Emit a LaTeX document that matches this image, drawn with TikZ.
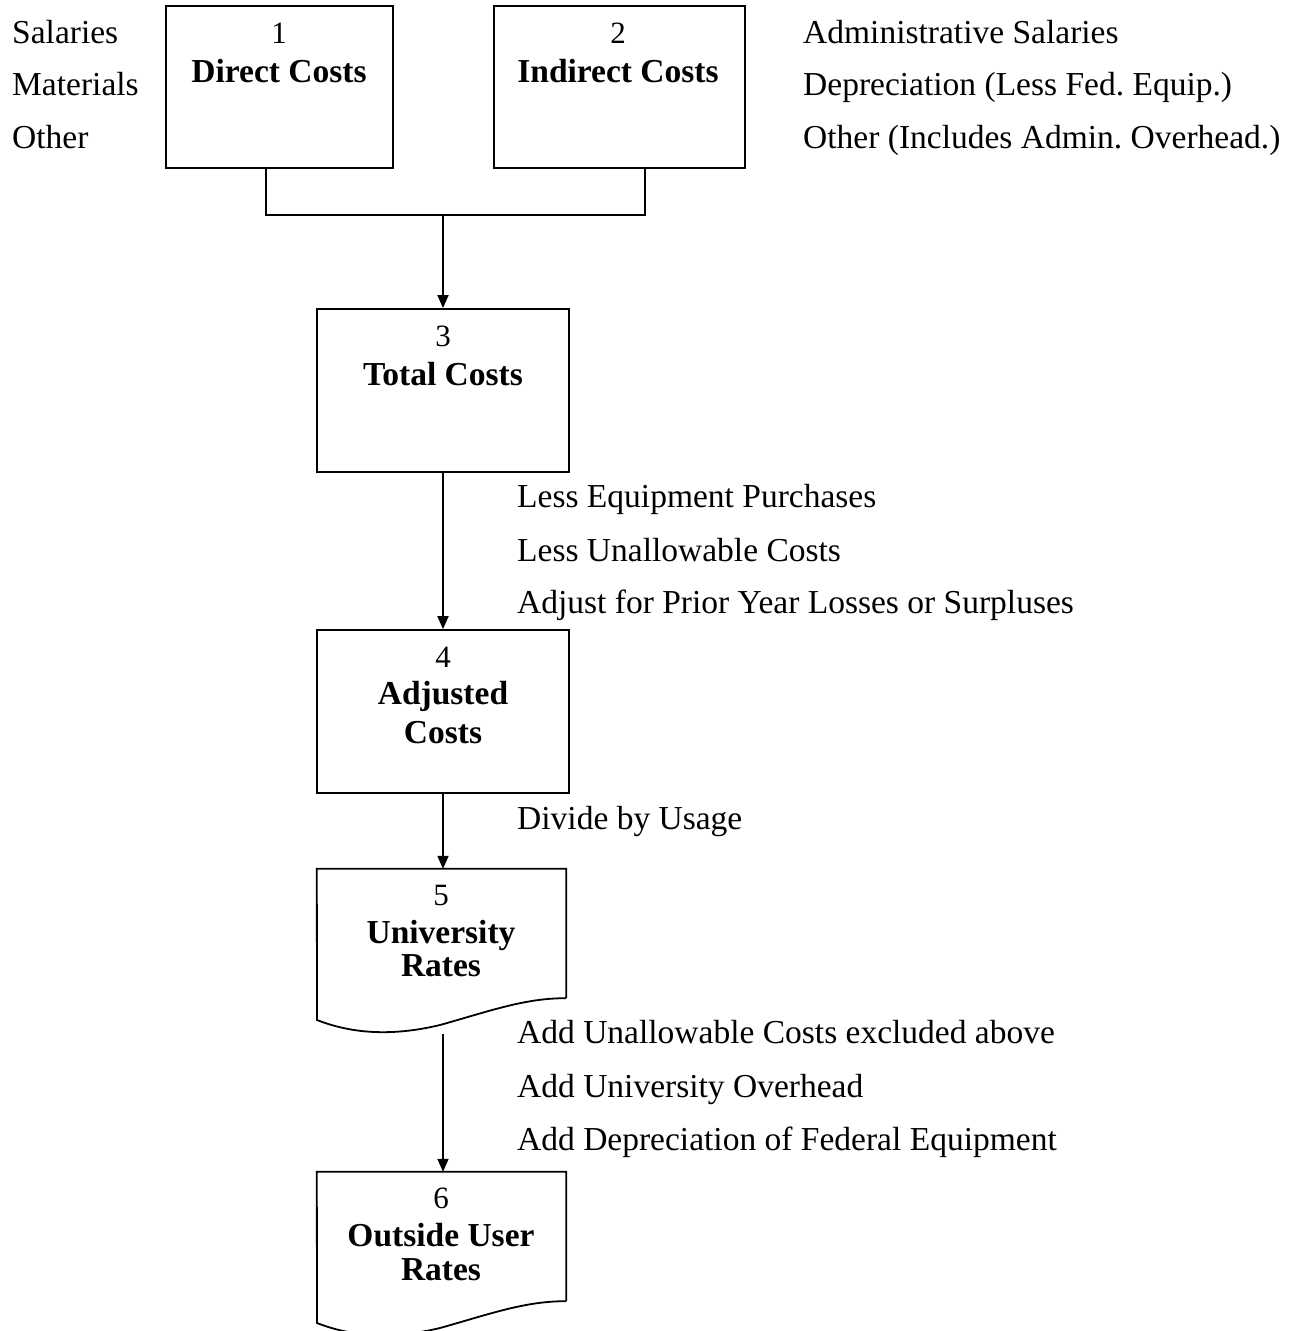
\documentclass[tikz,border=0pt]{standalone}
\usepackage{fontspec}
\setmainfont{Liberation Serif}
\usetikzlibrary{arrows.meta}
\frenchspacing
\begin{document}
\begin{tikzpicture}[x=1pt,y=-1pt,
  lbl/.style={anchor=base west,inner sep=0pt,font=\fontsize{33.5}{38}\selectfont},
  num/.style={anchor=base,inner sep=0pt,font=\fontsize{31}{36}\selectfont},
  ttl/.style={anchor=base,inner sep=0pt,font=\fontsize{33.5}{38}\selectfont\bfseries},
  boxln/.style={draw,line width=1.8pt},
  conn/.style={line width=1.8pt},
  arr/.style={conn,-{Triangle[width=11pt,length=13pt]}}]
\useasboundingbox (0,0) rectangle (1293,1331);
% boxes
\node[boxln,minimum width=227pt,minimum height=162pt,inner sep=0pt] (b1) at (279.5,87) {};
\node[boxln,minimum width=251pt,minimum height=162pt,inner sep=0pt] (b2) at (619.5,87) {};
\node[boxln,minimum width=252pt,minimum height=163pt,inner sep=0pt] (b3) at (443,390.5) {};
\node[boxln,minimum width=252pt,minimum height=163pt,inner sep=0pt] (b4) at (443,711.5) {};
\node[minimum width=249pt,minimum height=129pt,inner sep=0pt] (b5) at (441.5,933.5) {};
\node[minimum width=249pt,minimum height=129pt,inner sep=0pt] (b6) at (441.5,1236.5) {};
\draw[boxln,line join=miter] (b5.south east) -- (b5.north east) -- (b5.north west) -- (317,1020)
  .. controls (350,1033) and (390,1037) .. (440,1025)
  .. controls (490,1011) and (525,998) .. (b5.south east);
\draw[boxln,line join=miter] (b6.south east) -- (b6.north east) -- (b6.north west) -- (317,1323)
  .. controls (350,1336) and (390,1340) .. (440,1328)
  .. controls (490,1314) and (525,1301) .. (b6.south east);
% connectors
\coordinate (j) at (443,215);
\coordinate (s5) at (443,1034);
\draw[conn] ([xshift=-13.5pt]b1.south) |- (j) -| ([xshift=25.5pt]b2.south);
\draw[arr] (j) -- (b3.north);
\draw[arr] (b3.south) -- (b4.north);
\draw[arr] (b4.south) -- (b5.north -| b4.south);
\draw[arr] (s5) -- (b6.north -| s5);
% box texts
\node[num] (n1) at (279,43) {1};
\node[ttl] (t1) at (279,82) {Direct Costs};
\node[num] (n2) at (618,43) {2};
\node[ttl] (t2) at (618,82) {Indirect Costs};
\node[num] (n3) at (443,346) {3};
\node[ttl] (t3) at (443,385) {Total Costs};
\node[num] (n4) at (443,667) {4};
\node[ttl] (t4a) at (443,704) {Adjusted};
\node[ttl] (t4b) at (443,743) {Costs};
\node[num] (n5) at (441,905) {5};
\node[ttl] (t5a) at (441,943) {University};
\node[ttl] (t5b) at (441,976) {Rates};
\node[num] (n6) at (441,1208) {6};
\node[ttl] (t6a) at (441,1246) {Outside User};
\node[ttl] (t6b) at (441,1280) {Rates};
% side labels
\node[lbl] (l1) at (12,43) {Salaries};
\node[lbl] (l2) at (12,95) {Materials};
\node[lbl] (l3) at (12,148) {Other};
\node[lbl] (r1) at (803,43) {Administrative Salaries};
\node[lbl] (r2) at (803,95) {Depreciation (Less Fed. Equip.)};
\node[lbl] (r3) at (803,148) {Other (Includes Admin. Overhead.)};
\node[lbl] (a1) at (517,507) {Less Equipment Purchases};
\node[lbl] (a2) at (517,561) {Less Unallowable Costs};
\node[lbl] (a3) at (517,613) {Adjust for Prior Year Losses or Surpluses};
\node[lbl] (d1) at (517,829) {Divide by Usage};
\node[lbl] (u1) at (517,1043) {Add Unallowable Costs excluded above};
\node[lbl] (u2) at (517,1097) {Add University Overhead};
\node[lbl] (u3) at (517,1150) {Add Depreciation of Federal Equipment};
\end{tikzpicture}
\end{document}
